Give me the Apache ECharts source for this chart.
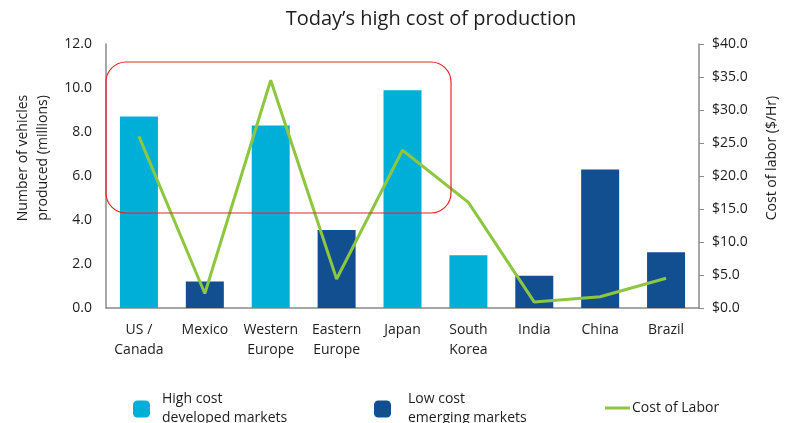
<!DOCTYPE html>
<html><head><meta charset="utf-8">
<script src="https://cdn.jsdelivr.net/npm/echarts@6/dist/echarts.min.js"></script>
<style>html,body{margin:0;padding:0;background:#fff}#c{width:788px;height:423px}</style>
</head><body><div id="c"></div>
<script>
const categories = ['US /\nCanada','Mexico','Western\nEurope','Eastern\nEurope','Japan','South\nKorea','India','China','Brazil'];
const highCost = [8.7, null, 8.3, null, 9.9, 2.4, null, null, null];
const lowCost = [null, 1.2, null, 3.55, null, null, 1.47, 6.3, 2.53];
const laborCost = [26.0, 2.2, 34.5, 4.4, 23.9, 16.0, 0.9, 1.7, 4.5];
const leftTicks = [0, 12, 2];
const rightTicks = [0, 40, 5];

const FONT = 'Open Sans';
const TXT = '#1e1c1d';
const chart = echarts.init(document.getElementById('c'));
chart.setOption({
  animation: false,
  textStyle: { fontFamily: FONT },
  title: { text: 'Today\u2019s high cost of production', left: 426, textAlign: 'center', top: 4,
    textStyle: { fontFamily: FONT, fontSize: 20, fontWeight: 'normal', color: TXT } },
  grid: { left: 106, right: 89, top: 44, bottom: 115 },
  legend: [
    { data: ['High cost'], left: 133, top: 390, padding: 0, itemWidth: 17, itemHeight: 17,
      formatter: () => 'High cost\ndeveloped markets',
      textStyle: { fontSize: 14, color: TXT, lineHeight: 19, fontFamily: FONT, padding: [0,0,0,7] } },
    { data: ['Low cost'], left: 374, top: 390, padding: 0, itemWidth: 17, itemHeight: 17,
      formatter: () => 'Low cost\nemerging markets',
      textStyle: { fontSize: 14, color: TXT, lineHeight: 19, fontFamily: FONT, padding: [0,0,0,12] } },
    { data: ['Cost of Labor'], left: 605, top: 401, padding: 0, itemWidth: 25, itemHeight: 3,
      icon: 'rect',
      textStyle: { fontSize: 14, color: TXT, fontFamily: FONT, padding: [0,0,0,-3] } }
  ],
  xAxis: {
    type: 'category', data: categories,
    axisLine: { lineStyle: { color: '#8a8a8a', width: 1.5 } },
    axisTick: { show: false },
    axisLabel: { color: TXT, fontSize: 14, lineHeight: 20, margin: 12, interval: 0 }
  },
  yAxis: [
    { type: 'value', min: leftTicks[0], max: leftTicks[1], interval: leftTicks[2],
      axisLine: { show: true, lineStyle: { color: '#8a8a8a', width: 1.5 } },
      axisTick: { show: false }, splitLine: { show: false },
      axisLabel: { color: TXT, fontSize: 14, margin: 14, formatter: v => v.toFixed(1) } },
    { type: 'value', min: rightTicks[0], max: rightTicks[1], interval: rightTicks[2], position: 'right',
      axisLine: { show: true, lineStyle: { color: '#8a8a8a', width: 1.5 } },
      axisTick: { show: true, length: 5, lineStyle: { color: '#8a8a8a' } }, splitLine: { show: false },
      axisLabel: { color: TXT, fontSize: 14, margin: 13, formatter: v => '$' + v.toFixed(1) } }
  ],
  series: [
    { name: 'High cost', type: 'bar', stack: 'a', data: highCost, barWidth: 38,
      itemStyle: { color: '#00afd7' } },
    { name: 'Low cost', type: 'bar', stack: 'a', data: lowCost, barWidth: 38,
      itemStyle: { color: '#124f91' } },
    { name: 'Cost of Labor', type: 'line', yAxisIndex: 1, data: laborCost,
      symbol: 'none', lineStyle: { color: '#8dc63f', width: 3 }, itemStyle: { color: '#8dc63f' } }
  ],
  graphic: [
    { type: 'rect', shape: { x: 106, y: 62, width: 345, height: 151, r: 20 },
      style: { fill: 'none', stroke: '#e8262b', lineWidth: 1.2 }, z: 10 },
    { type: 'text', x: 33, y: 158, rotation: Math.PI / 2, z: 10,
      style: { text: 'Number of vehicles\nproduced (millions)', fill: TXT, font: '14px "Open Sans"',
        align: 'center', verticalAlign: 'middle', lineHeight: 20 } },
    { type: 'text', x: 772, y: 158, rotation: Math.PI / 2, z: 10,
      style: { text: 'Cost of labor ($/Hr)', fill: TXT, font: '14px "Open Sans"',
        align: 'center', verticalAlign: 'middle' } }
  ]
});
</script></body></html>
